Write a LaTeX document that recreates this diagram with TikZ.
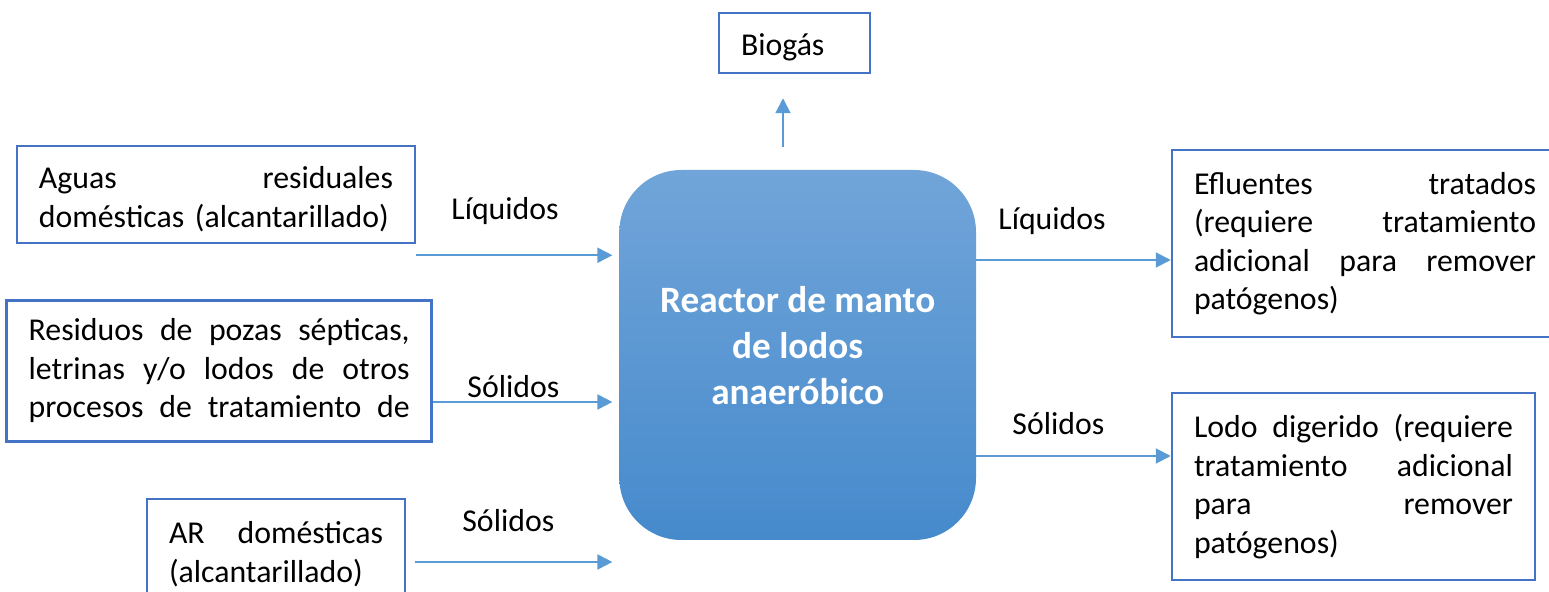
\documentclass[tikz,border=0pt]{standalone}
\usepackage{fontspec}
\setmainfont{Carlito}
\usepackage{tikz}
\usetikzlibrary{arrows.meta,positioning}
\definecolor{bordeazul}{RGB}{68,114,196}
\definecolor{flechaazul}{RGB}{91,155,213}
\definecolor{reactorarriba}{RGB}{113,165,217}
\definecolor{reactorabajo}{RGB}{70,138,204}

\begin{document}
\begin{tikzpicture}[x=0.5pt,y=-0.5pt,
	caja/.style={draw=bordeazul,line width=1.25pt,fill=white,align=left,inner xsep=11pt,inner ysep=0pt,font=\fontsize{15.9pt}{19.25pt}\selectfont},
	reactor/.style={rounded corners=31pt,minimum width=178.3pt,minimum height=185pt,top color=reactorarriba,bottom color=reactorabajo,draw=none,text=white,align=center,font=\bfseries\fontsize{18.6pt}{23pt}\selectfont},
	flujo/.style={flechaazul,line width=1pt,-{Triangle[length=7.5pt,width=7.5pt]}},
	etiqueta/.style={anchor=base west,inner sep=0pt,font=\fontsize{15.9pt}{19.25pt}\selectfont}]
			\useasboundingbox (0,0) rectangle (1549,592);
			\clip (0,0) rectangle (1549,592);
			
			\node[reactor] (reactor) at (797.7,355) {Reactor de manto\\de lodos\\anaeróbico\rule[-9.5pt]{0pt}{0pt}};
			
			\node[caja,text width=53.5pt,minimum height=30pt] (biogas) at (794.5,43) {\rule{0pt}{15.5pt}Biogás};
			\node[caja,text width=177pt,minimum height=48.5pt] (aguas) at (216,194.5) {\rule{0pt}{15.75pt}Aguas\hfill residuales\\domésticas (alcantarillado)};
			\node[caja,text width=190.5pt,minimum height=70.5pt] (pozas) at (219.2,371) {Residuos\hfill de\hfill pozas\hfill sépticas,\\letrinas\hfill y/o\hfill lodos\hfill de\hfill otros\\procesos\hfill de\hfill tratamiento\hfill de};
			\node[caja,text width=107pt,minimum height=55pt] (ardom) at (276,554) {AR\hfill domésticas\\(alcantarillado)};
			\node[caja,text width=171pt,minimum height=93.5pt] (efluente) at (1365,243.5) {Efluentes\hfill tratados\\(requiere\hfill tratamiento\\adicional\hfill para\hfill remover\\patógenos)};
			\node[caja,text width=159.5pt,minimum height=93.5pt] (lodo) at (1353.5,486.5) {Lodo\hfill digerido\hfill (requiere\\tratamiento\hfill adicional\\para\hfill remover\\patógenos)};
			
			\coordinate (gas) at (783,147);
			\coordinate (ent3) at (415,562);
			\draw[flujo,shorten >=12pt] (gas) -- (gas |- biogas.south);
			\draw[flujo,shorten >=3.3pt] ([yshift=-5.5pt]aguas.south east) -- ([yshift=-5.5pt]aguas.south east -| reactor.west);
			\draw[flujo,shorten >=3.3pt] ([yshift=-15.5pt]pozas.east) -- ([yshift=-15.5pt]pozas.east -| reactor.west);
			\draw[flujo,shorten >=3.3pt] (ent3) -- (ent3 -| reactor.west);
			\draw[flujo] ([yshift=-8.25pt]efluente.west -| reactor.east) -- ([yshift=-8.25pt]efluente.west);
			\draw[flujo] ([yshift=15.25pt]lodo.west -| reactor.east) -- ([yshift=15.25pt]lodo.west);
			
			\node[etiqueta] (liq1) at (451,220) {Líquidos};
			\node[etiqueta] (sol1) at (467,398) {Sólidos};
			\node[etiqueta] (sol2) at (462,532) {Sólidos};
			\node[etiqueta] (liq2) at (998,230) {Líquidos};
			\node[etiqueta] (sol3) at (1012,435) {Sólidos};
		\end{tikzpicture}
\end{document}
